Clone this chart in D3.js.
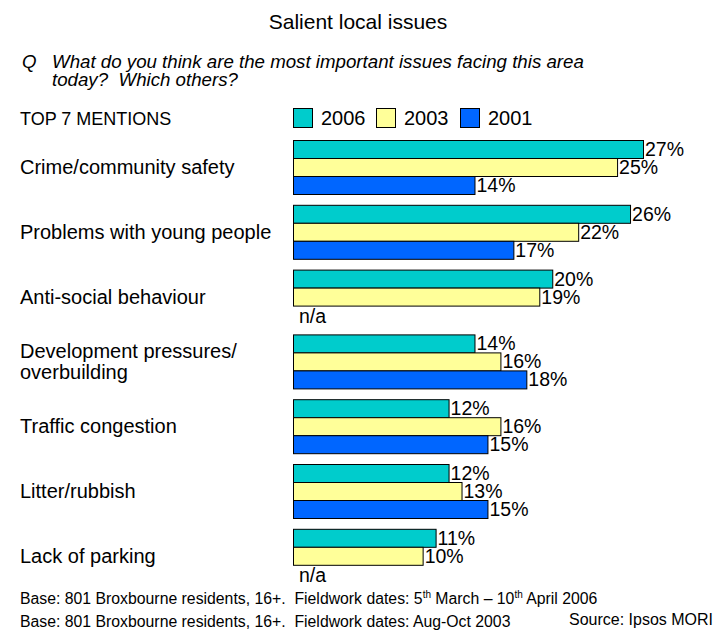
<!DOCTYPE html>
<html><head><meta charset="utf-8">
<script src="https://cdn.jsdelivr.net/npm/d3@7"></script>
<style>body{margin:0;background:#fff}svg{display:block}text{font-family:"Liberation Sans",Arial,sans-serif;fill:#000;white-space:pre}</style>
</head><body>
<svg id="c" width="717" height="630"></svg>
<script>
const categories = [["Crime/community safety"],["Problems with young people"],["Anti-social behaviour"],["Development pressures/","overbuilding"],["Traffic congestion"],["Litter/rubbish"],["Lack of parking"]];
const seriesNames = ["2006","2003","2001"];
const values2006 = [27,26,20,14,12,12,11];
const values2003 = [25,22,19,16,16,13,10];
const values2001 = [14,17,null,18,15,15,null];
const colors = ["#00CCCC","#FFFF99","#0066FF"];

const svg = d3.select("#c");
const allSeries = [values2006, values2003, values2001];
const idx = d3.range(categories.length);

const y0 = d3.scaleBand().domain(idx).range([140, 582.8]).paddingInner(0.1667).paddingOuter(0);
const y1 = d3.scaleBand().domain(d3.range(3)).range([0, y0.bandwidth()]);
const x = d3.scaleLinear().domain([0, 27]).range([293, 643]);

svg.append("text").attr("x", 358).attr("y", 29).attr("text-anchor","middle").attr("font-size", 21).text("Salient local issues");
svg.append("text").attr("x", 22).attr("y", 68).attr("font-size", 18.7).attr("font-style","italic").text("Q");
svg.append("text").attr("x", 52).attr("y", 68).attr("font-size", 18.7).attr("font-style","italic").text("What do you think are the most important issues facing this area");
svg.append("text").attr("x", 52).attr("y", 86).attr("font-size", 18.7).attr("font-style","italic").text("today?  Which others?");
svg.append("text").attr("x", 20).attr("y", 125).attr("font-size", 18).text("TOP 7 MENTIONS");

// legend
const legX = [293, 376, 460];
seriesNames.forEach((s,i)=>{
  svg.append("rect").attr("x", legX[i]+0.5).attr("y", 108.5).attr("width", 19).attr("height", 19)
    .attr("fill", colors[i]).attr("stroke","#000").attr("stroke-width",1);
  svg.append("text").attr("x", legX[i]+28).attr("y", 125).attr("font-size", 20).text(s);
});

// category labels
idx.forEach(i=>{
  const lines = categories[i];
  const cy = y0(i) + y0.bandwidth()/2;
  lines.forEach((l,j)=>{
    const off = (j - (lines.length-1)/2) * 21;
    svg.append("text").attr("x", 20).attr("y", cy + off + 7).attr("font-size", 20).text(l);
  });
});

// bars
allSeries.forEach((vals, s)=>{
  const g = svg.append("g");
  idx.forEach(i=>{
    const v = vals[i];
    const by = y0(i) + y1(s);
    if (v == null) {
      g.append("text").attr("x", x(0)+6).attr("y", by + y1.bandwidth()/2 + 8).attr("font-size", 19.5).text("n/a");
      return;
    }
    g.append("rect").attr("x", x(0)+0.5).attr("y", by+0.5).attr("width", x(v)-x(0)).attr("height", y1.bandwidth())
      .attr("fill", colors[s]).attr("stroke","#000").attr("stroke-width",1);
    g.append("text").attr("x", x(v)+2).attr("y", by + y1.bandwidth()/2 + 7).attr("font-size", 19.5).text(v + "%");
  });
});

// footer
const f1 = svg.append("text").attr("x", 20).attr("y", 604).attr("font-size", 15.8);
f1.append("tspan").text("Base: 801 Broxbourne residents, 16+.  Fieldwork dates: 5");
f1.append("tspan").attr("font-size", 10).attr("dy", -6).text("th");
f1.append("tspan").attr("dy", 6).text(" March \u2013 10");
f1.append("tspan").attr("font-size", 10).attr("dy", -6).text("th");
f1.append("tspan").attr("dy", 6).text(" April 2006");
svg.append("text").attr("x", 20).attr("y", 627).attr("font-size", 15.8).text("Base: 801 Broxbourne residents, 16+.  Fieldwork dates: Aug-Oct 2003");
svg.append("text").attr("x", 713).attr("y", 625).attr("text-anchor","end").attr("font-size", 16).text("Source: Ipsos MORI");
</script>
</body></html>
